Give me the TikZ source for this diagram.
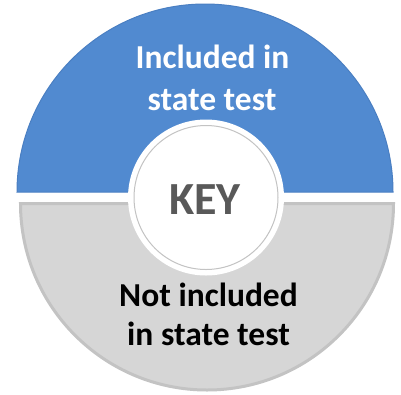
\documentclass[tikz,border=0pt]{standalone}
\usepackage{fontspec}
\setmainfont{Carlito}
\definecolor{keyblue}{HTML}{518AD0}
\definecolor{keyblueedge}{HTML}{4A7FC2}
\definecolor{keygray}{HTML}{D6D6D6}
\definecolor{keygrayedge}{HTML}{C3C3C3}
\definecolor{keytext}{HTML}{595959}
\tikzset{
  labeltxt/.style={font=\bfseries\fontsize{33.5}{40}\selectfont, anchor=base, inner sep=0pt},
}
\begin{document}
\begin{tikzpicture}[x=1pt,y=-1pt]
\useasboundingbox[fill=white] (0,0) rectangle (401,394);
% upper (blue) half
\filldraw[fill=keyblue, draw=keyblueedge, line width=1pt]
  (393,192) arc[start angle=0, end angle=-180, radius=188] -- cycle;
% lower (gray) half
\filldraw[fill=keygray, draw=keygrayedge, line width=3pt]
  (393.5,203.5) arc[start angle=0, end angle=180, radius=186.5] -- cycle;
% white cut-out and centre disc
\fill[white] (206,197.5) circle[radius=78];
\node[circle, draw=keygrayedge, line width=1pt, fill=white, minimum size=144pt, inner sep=0pt] (keydisc) at (206,197.5) {};
\node[font=\bfseries\fontsize{46}{50}\selectfont, text=keytext, anchor=base, inner sep=0pt] (key) at (205,214) {KEY};
% labels
\node[labeltxt, text=white] (inc1) at (212.5,68.3) {Included in};
\node[labeltxt, text=white] (inc2) at (212,110) {state test};
\node[labeltxt, text=black] (not1) at (208.5,306.7) {Not included};
\node[labeltxt, text=black] (not2) at (208.5,345) {in state test};
\end{tikzpicture}
\end{document}
